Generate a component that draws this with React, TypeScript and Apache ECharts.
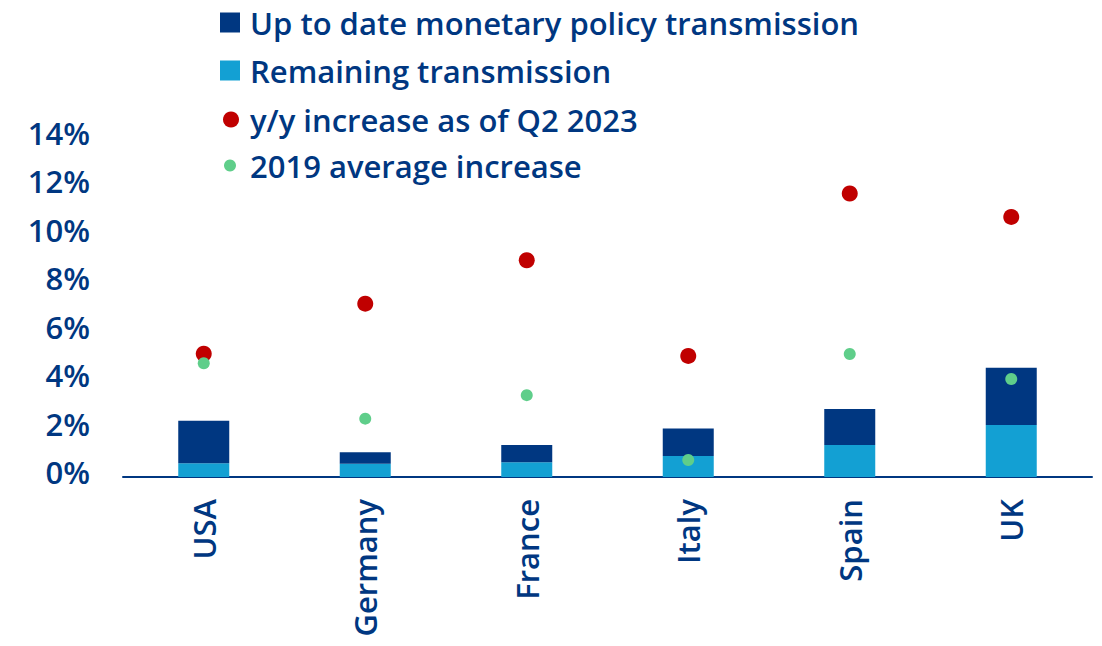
import React, { useEffect, useRef } from "react";
import * as echarts from "echarts";

const categories = ["USA", "Germany", "France", "Italy", "Spain", "UK"];
const remainingTransmission = [0.57, 0.55, 0.61, 0.87, 1.32, 2.15];
const upToDateTransmission = [1.75, 0.47, 0.71, 1.13, 1.49, 2.36];
const yoyIncreaseQ22023 = [5.09, 7.16, 8.95, 5.0, 11.71, 10.74];
const avgIncrease2019 = [4.7, 2.41, 3.38, 0.7, 5.08, 4.05];
const yTicks = { min: 0, max: 14, interval: 2 };

const NAVY = "#003781";
const LIGHT = "#13A0D3";
const RED = "#C00000";
const GREEN = "#5FCE8A";
const TEXT = "#003781";
const FONT = "Open Sans";
const FS = 31;
const FW = 600;

export default function App() {
  const ref = useRef<HTMLDivElement>(null);
  useEffect(() => {
    if (!ref.current) return;
    const chart = echarts.init(ref.current, undefined, { renderer: "svg" });
    const legendText = {
      color: TEXT,
      fontSize: FS,
      fontFamily: FONT,
      fontWeight: FW as any,
      padding: [0, 0, 0, 5],
    };
    chart.setOption({
      animation: false,
      backgroundColor: "#ffffff",
      legend: [
        {
          data: ["Up to date monetary policy transmission"],
          left: 220,
          top: 7,
          padding: 0,
          itemWidth: 20,
          itemHeight: 20,
          icon: "rect",
          textStyle: legendText,
        },
        {
          data: ["Remaining transmission"],
          left: 220,
          top: 55,
          padding: 0,
          itemWidth: 20,
          itemHeight: 20,
          icon: "rect",
          textStyle: legendText,
        },
        {
          data: ["y/y increase as of Q2 2023"],
          left: 223,
          top: 104,
          padding: 0,
          itemWidth: 16,
          itemHeight: 16,
          icon: "circle",
          textStyle: { ...legendText, padding: [0, 0, 0, 6] },
        },
        {
          data: ["2019 average increase"],
          left: 224,
          top: 150,
          padding: 0,
          itemWidth: 12,
          itemHeight: 12,
          icon: "circle",
          textStyle: { ...legendText, padding: [0, 0, 0, 9] },
        },
      ],
      grid: { left: 123, right: 10, top: 138, bottom: 169, containLabel: false },
      xAxis: {
        type: "category",
        data: categories,
        axisLine: { show: true, lineStyle: { color: NAVY, width: 2 } },
        axisTick: { show: false },
        axisLabel: {
          rotate: 90,
          margin: 22,
          color: TEXT,
          fontSize: FS,
          fontFamily: FONT,
          fontWeight: FW,
        },
      },
      yAxis: {
        type: "value",
        min: yTicks.min,
        max: yTicks.max,
        interval: yTicks.interval,
        splitLine: { show: false },
        axisLine: { show: false },
        axisTick: { show: false },
        axisLabel: {
          formatter: "{value}%",
          margin: 33,
          color: TEXT,
          fontSize: FS,
          fontFamily: FONT,
          fontWeight: FW,
          verticalAlign: "bottom",
          lineHeight: 10,
        },
      },
      series: [
        {
          name: "Remaining transmission",
          type: "bar",
          stack: "t",
          barWidth: 51,
          data: remainingTransmission,
          itemStyle: { color: LIGHT },
        },
        {
          name: "Up to date monetary policy transmission",
          type: "bar",
          stack: "t",
          barWidth: 51,
          data: upToDateTransmission,
          itemStyle: { color: NAVY },
        },
        {
          name: "y/y increase as of Q2 2023",
          type: "scatter",
          symbol: "circle",
          symbolSize: 16,
          data: yoyIncreaseQ22023,
          itemStyle: { color: RED, opacity: 1 },
          z: 3,
        },
        {
          name: "2019 average increase",
          type: "scatter",
          symbol: "circle",
          symbolSize: 12,
          data: avgIncrease2019,
          itemStyle: { color: GREEN, opacity: 1 },
          z: 4,
        },
      ],
    });
    return () => chart.dispose();
  }, []);
  return (
    <div
      ref={ref}
      style={{ position: "fixed", left: 0, top: 0, width: 1102, height: 646 }}
    />
  );
}
